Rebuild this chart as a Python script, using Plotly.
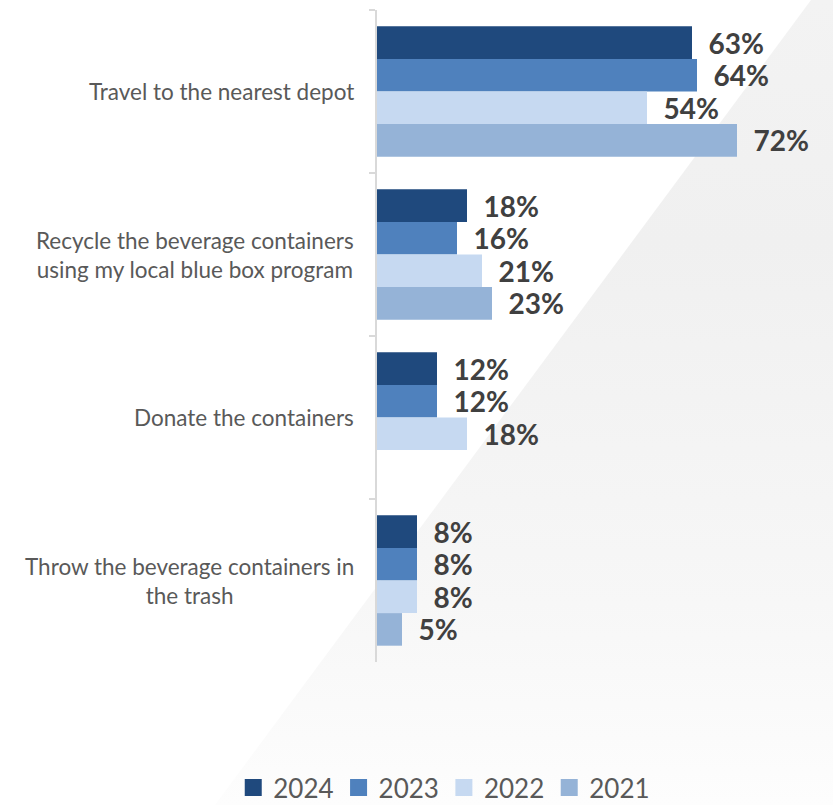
import base64
import plotly.graph_objects as go

# Survey answers (category axis, top to bottom)
categories = [
    "Travel to the nearest depot",
    "Recycle the beverage containers using my local blue box program",
    "Donate the containers",
    "Throw the beverage containers in the trash",
]
category_labels = [
    "Travel to the nearest depot",
    "Recycle the beverage containers<br>using my local blue box program",
    "Donate the containers",
    "Throw the beverage containers in<br>the trash",
]

# Share of respondents (%) per survey year
years = ["2024", "2023", "2022", "2021"]
values_2024 = [63, 18, 12, 8]
values_2023 = [64, 16, 12, 8]
values_2022 = [54, 21, 18, 8]
values_2021 = [72, 23, None, 5]
series = [values_2024, values_2023, values_2022, values_2021]
colors = ["#1F497D", "#4F81BD", "#C6D9F1", "#95B3D7"]

W, H = 833, 805
ML, MR, MT, MB = 377, 6, 10, 143
PW, PH = W - ML - MR, H - MT - MB

FONT = "Lato"

fig = go.Figure()
for year, vals, col in zip(years, series, colors):
    fig.add_trace(go.Bar(
        name=year,
        y=categories,
        x=vals,
        orientation="h",
        marker=dict(color=col, line=dict(width=0)),
        texttemplate="\u00a0\u00a0%{x}%",
        textposition="outside",
        textfont=dict(family=FONT, size=28, color="#404040", weight="bold"),
        constraintext="none",
        cliponaxis=False,
        hoverinfo="skip",
        showlegend=False,
        legendgroup=year,
    ))

# Legend keys: empty bars on a hidden overlay axis, outlined so the swatches are larger
for year, col in zip(years, colors):
    fig.add_trace(go.Bar(
        name=year, x=[None], y=[None], orientation="h",
        xaxis="x2", yaxis="y2",
        marker=dict(color=col, line=dict(color=col, width=5)),
        legendgroup=year, hoverinfo="skip",
    ))

# Category labels, centred line by line and right-aligned against the axis
annotations = []
for cat, lab in zip(categories, category_labels):
    annotations.append(dict(
        xref="paper", yref="y", x=0, y=cat,
        xanchor="right", yanchor="middle", xshift=-21,
        text=lab, align="center", showarrow=False,
        font=dict(family=FONT, size=22.5, color="#595959"),
    ))

# Light grey diagonal backdrop
svg = f"""<svg xmlns='http://www.w3.org/2000/svg' width='{W}' height='{H}' viewBox='0 0 {W} {H}' preserveAspectRatio='none'>
<defs><linearGradient id='g' x1='0' y1='0' x2='0' y2='1'>
<stop offset='0' stop-color='#f3f3f3'/><stop offset='0.3' stop-color='#f0f0f0'/>
<stop offset='0.75' stop-color='#f7f7f7'/><stop offset='1' stop-color='#fdfdfd'/></linearGradient></defs>
<polygon points='811,0 {W},0 {W},{H} 215,{H}' fill='url(#g)'/></svg>"""
bg_src = "data:image/svg+xml;base64," + base64.b64encode(svg.encode()).decode()

fig.update_layout(
    width=W, height=H,
    margin=dict(l=ML, r=MR, t=MT, b=MB, pad=0, autoexpand=False),
    paper_bgcolor="white",
    plot_bgcolor="rgba(0,0,0,0)",
    barmode="group",
    bargap=0.2,
    bargroupgap=0,
    showlegend=True,
    legend=dict(
        orientation="h",
        xref="container", yref="container",
        x=0.28, y=1 - 764 / H, xanchor="left", yanchor="top",
        font=dict(family=FONT, size=26, color="#595959"),
        bgcolor="rgba(0,0,0,0)",
        traceorder="normal",
    ),
    xaxis=dict(range=[0, 90], visible=False, fixedrange=True),
    yaxis=dict(
        type="category",
        categoryorder="array", categoryarray=categories,
        autorange="reversed",
        showline=True, linecolor="#D9D9D9", linewidth=1.5,
        ticks="outside", tickson="boundaries", ticklen=6,
        tickcolor="#D9D9D9", tickwidth=1.5,
        showticklabels=False, showgrid=False, zeroline=False,
        fixedrange=True,
    ),
    xaxis2=dict(overlaying="x", visible=False, fixedrange=True),
    yaxis2=dict(overlaying="y", visible=False, fixedrange=True),
    annotations=annotations,
    images=[dict(
        source=bg_src, xref="paper", yref="paper",
        x=-ML / PW, y=1 + MT / PH, sizex=W / PW, sizey=H / PH,
        xanchor="left", yanchor="top", sizing="stretch", layer="below",
    )],
    font=dict(family=FONT),
)

fig.write_html("out.html")
